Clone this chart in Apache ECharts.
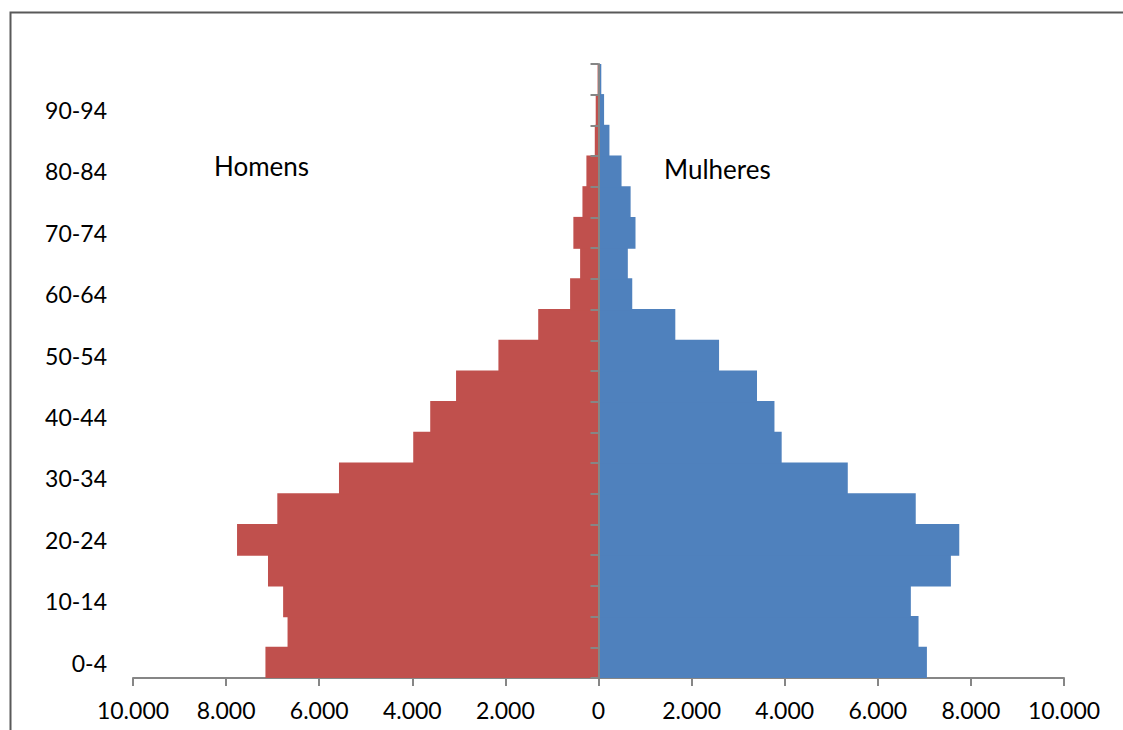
<!DOCTYPE html>
<html>
<head>
<meta charset="utf-8">
<script src="https://cdn.jsdelivr.net/npm/echarts@6/dist/echarts.min.js"></script>
<style>
  html, body { margin: 0; padding: 0; background: #fff; }
  #chart { width: 1123px; height: 730px; }
</style>
</head>
<body>
<div id="chart"></div>
<script>
// Age groups, youngest at the bottom
const faixas = ['0-4', '5-9', '10-14', '15-19', '20-24', '25-29', '30-34', '35-39', '40-44', '45-49',
  '50-54', '55-59', '60-64', '65-69', '70-74', '75-79', '80-84', '85-89', '90-94', '95-99'];

// Population by age group
const homens = [7155, 6680, 6775, 7100, 7765, 6900, 5575, 3980, 3615, 3060,
  2150, 1295, 610, 395, 540, 345, 260, 80, 60, 20];
const mulheres = [7055, 6875, 6710, 7570, 7750, 6815, 5355, 3935, 3780, 3405,
  2590, 1650, 725, 630, 795, 690, 495, 235, 120, 60];

const FONT = 'Lato, "Open Sans", sans-serif';
const AXIS_GREY = '#868686';
const RED = '#C0504D';
const BLUE = '#4F81BD';

function milhar(v) {
  return Math.abs(v).toString().replace(/\B(?=(\d{3})+(?!\d))/g, '.');
}

const chart = echarts.init(document.getElementById('chart'), null, { renderer: 'svg' });

chart.setOption({
  animation: false,
  backgroundColor: '#ffffff',
  textStyle: { fontFamily: FONT },
  grid: { left: 133, right: 59, top: 64, bottom: 52, containLabel: false },
  xAxis: {
    type: 'value',
    min: -10000,
    max: 10000,
    interval: 2000,
    splitLine: { show: false },
    axisLine: { show: true, lineStyle: { color: AXIS_GREY, width: 2 } },
    axisTick: { show: true, length: 8, lineStyle: { color: AXIS_GREY, width: 2 } },
    axisLabel: { formatter: milhar, color: '#000', fontSize: 23, fontFamily: FONT, margin: 20 }
  },
  yAxis: [
    {
      // central axis line with boundary ticks at zero
      type: 'category',
      data: faixas,
      position: 'left',
      axisLine: { show: true, onZero: true, lineStyle: { color: AXIS_GREY, width: 2 } },
      axisTick: { show: true, length: 8, interval: 0, lineStyle: { color: AXIS_GREY, width: 2 } },
      axisLabel: { show: false },
      splitLine: { show: false },
      z: 10
    },
    {
      // age labels along the left edge
      type: 'category',
      data: faixas,
      position: 'left',
      axisLine: { show: false, onZero: false },
      axisTick: { show: false },
      axisLabel: { show: true, interval: 1, color: '#000', fontSize: 23, fontFamily: FONT, margin: 26 },
      splitLine: { show: false }
    }
  ],
  series: [
    {
      name: 'Homens',
      type: 'bar',
      stack: 'pop',
      yAxisIndex: 0,
      // slight overlap so neighbouring bars join without seams
      barCategoryGap: '-4%',
      itemStyle: { color: RED },
      data: homens.map(v => -v)
    },
    {
      name: 'Mulheres',
      type: 'bar',
      stack: 'pop',
      yAxisIndex: 0,
      barCategoryGap: '-4%',
      itemStyle: { color: BLUE },
      data: mulheres
    }
  ],
  graphic: [
    {
      type: 'rect',
      left: 8,
      top: 10,
      shape: { width: 1130, height: 740 },
      style: { fill: 'none', stroke: '#595959', lineWidth: 2 },
      silent: true
    },
    {
      type: 'text',
      left: 214,
      top: 153,
      style: { text: 'Homens', font: '26px ' + FONT, fill: '#000' }
    },
    {
      type: 'text',
      left: 664,
      top: 156,
      style: { text: 'Mulheres', font: '26px ' + FONT, fill: '#000' }
    }
  ]
});
</script>
</body>
</html>
